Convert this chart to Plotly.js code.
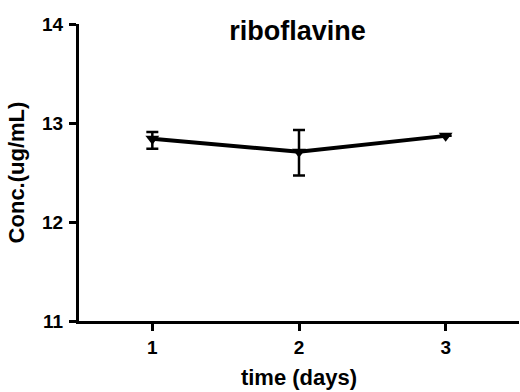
<!DOCTYPE html>
<html><head><meta charset="utf-8">
<script src="https://cdn.plot.ly/plotly-3.0.1.min.js"></script>
<style>body{margin:0;background:#fff}#c{width:520px;height:392px}</style>
</head><body><div id="c"></div>
<script>
const days = [1, 2, 3];
const conc = [12.84, 12.71, 12.87];
const errPlus = [0.07, 0.22, 0];
const errMinus = [0.10, 0.24, 0];
const xTicks = [1, 2, 3];
const yTicks = [11, 12, 13, 14];

const trace = {
  x: days, y: conc, type: 'scatter', mode: 'lines+markers',
  line: {color: '#000', width: 4},
  marker: {symbol: 'triangle-down', size: 12, color: '#000'},
  error_y: {type: 'data', symmetric: false, array: errPlus, arrayminus: errMinus,
            color: '#000', thickness: 2.5, width: 6}
};
const fam = 'Liberation Sans, Arial, sans-serif';
const layout = {
  width: 520, height: 392,
  margin: {l: 79, r: 1, t: 24, b: 71},
  paper_bgcolor: '#fff', plot_bgcolor: '#fff',
  showlegend: false,
  font: {family: fam, color: '#000'},
  title: {text: '<b>riboflavine</b>', font: {size: 27, family: fam, color: '#000'},
          x: 0.572, xanchor: 'center', y: 0.921, yanchor: 'middle'},
  xaxis: {range: [0.5, 3.5], tickvals: xTicks, ticktext: xTicks.map(v => '<b>' + v + '</b>'),
          showgrid: false, zeroline: false, showline: true, linecolor: '#000', linewidth: 3,
          ticks: 'outside', ticklen: 7, tickwidth: 3, tickcolor: '#000',
          tickfont: {size: 19, family: fam, color: '#000'},
          title: {text: '<b>time (days)</b>', font: {size: 22, family: fam, color: '#000'}, standoff: 13}},
  yaxis: {range: [11, 14], tickvals: yTicks, ticktext: yTicks.map(v => '<b>' + v + '</b>'),
          showgrid: false, zeroline: false, showline: true, linecolor: '#000', linewidth: 3,
          ticks: 'outside', ticklen: 7, tickwidth: 3, tickcolor: '#000', ticklabelstandoff: 2,
          tickfont: {size: 19, family: fam, color: '#000'},
          title: {text: '<b>Conc.(ug/mL)</b>', font: {size: 22, family: fam, color: '#000'}, standoff: 12}}
};
Plotly.newPlot('c', [trace], layout, {displayModeBar: false, staticPlot: true});
</script></body></html>
